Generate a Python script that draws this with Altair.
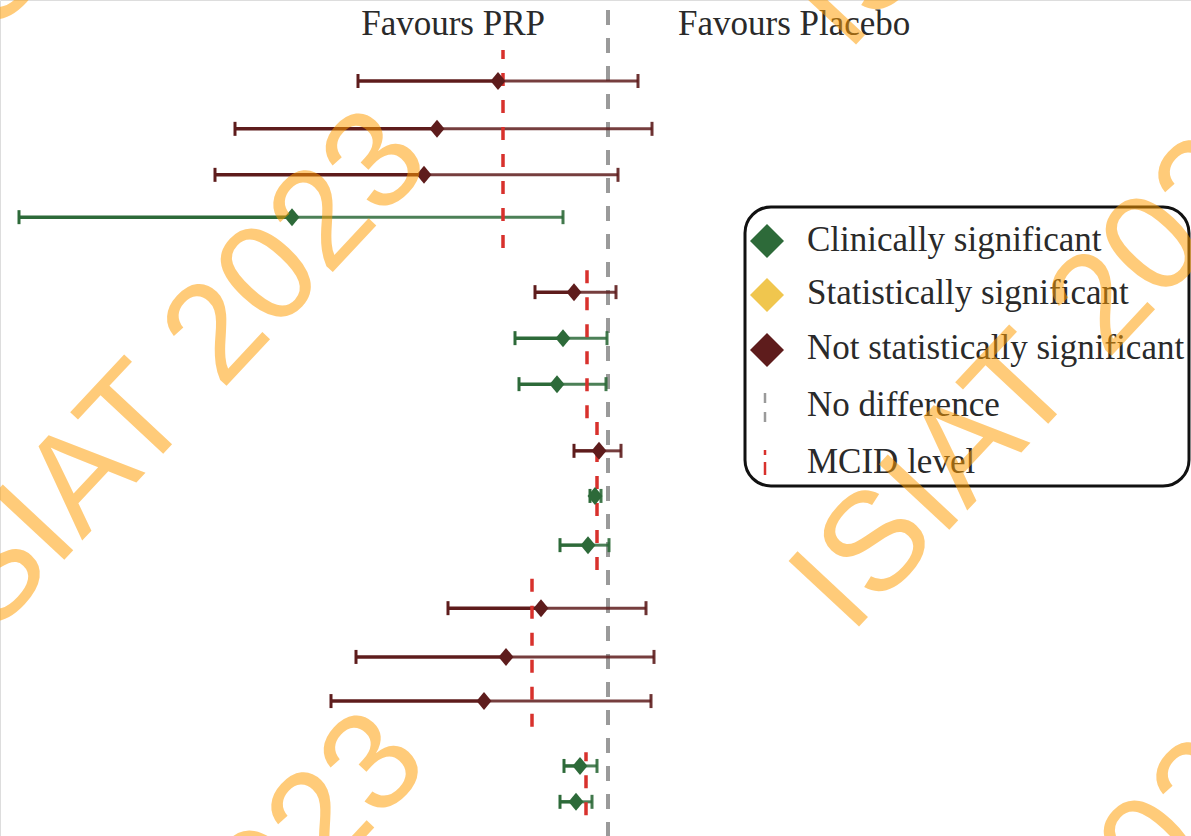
import altair as alt
import pandas as pd

# ---- Forest plot data: mean difference vs placebo with 95% CI (top to bottom) ----
row_pos = [0, 1.04, 2.04, 2.96, 4.59, 5.59, 6.59, 8.04, 9.02, 10.09,
           11.46, 12.52, 13.48, 14.89, 15.67]
lower = [-12.5, -18.65, -19.65, -29.45, -3.65, -4.65, -4.45, -1.7, -0.9, -2.4,
         -8.0, -12.6, -13.85, -2.2, -2.4]
estimate = [-5.5, -8.55, -9.2, -15.8, -1.7, -2.25, -2.55, -0.45, -0.65, -1.0,
            -3.35, -5.1, -6.2, -1.4, -1.6]
upper = [1.5, 2.2, 0.5, -2.25, 0.4, -0.05, -0.1, 0.65, -0.35, 0.05,
         1.9, 2.3, 2.15, -0.55, -0.8]
CLIN = "Clinically significant"
STAT = "Statistically significant"
NS = "Not statistically significant"
status = [NS, NS, NS, CLIN, NS, CLIN, CLIN, NS, CLIN, CLIN,
          NS, NS, NS, CLIN, CLIN]

# MCID thresholds, one per outcome group, with the rows each one spans
mcid_value = [-5.25, -1.05, -0.55, -3.8, -1.1]
mcid_from = [3.63, 7.33, 10.63, 14.04, 15.96]
mcid_to = [-0.674, 3.89, 7.37, 10.80, 14.59]

legend_labels = [CLIN, STAT, NS, "No difference", "MCID level"]
status_colors = ["#2D6A39", "#F0C64E", "#5E1C1C"]

W, H = 1191, 836

rows = pd.DataFrame({"pos": row_pos, "lower": lower, "estimate": estimate,
                     "upper": upper, "status": status})
mcid = pd.DataFrame({"mcid": mcid_value, "y_from": mcid_from, "y_to": mcid_to})
one = pd.DataFrame({"k": [0]})

xs = alt.Scale(domain=[-30.4, 29.15], nice=False, zero=False)
ys = alt.Scale(domain=[-1.7609, 16.413], nice=False, zero=False, reverse=True)
col = alt.Scale(domain=[CLIN, STAT, NS], range=status_colors)

X = lambda f: alt.X(f, type="quantitative", scale=xs, axis=None)
Y = lambda f: alt.Y(f, type="quantitative", scale=ys, axis=None)
PX = lambda f: alt.X(f, type="quantitative", scale=None, axis=None)
PY = lambda f: alt.Y(f, type="quantitative", scale=None, axis=None)
C = alt.Color("status:N", scale=col, legend=None)

base = alt.Chart(rows)

ci_right = base.mark_rule(strokeWidth=3, opacity=0.85).encode(
    x=X("estimate"), x2="upper", y=Y("pos"), color=C)
ci_left = base.mark_rule(strokeWidth=3.5).encode(
    x=X("lower"), x2="estimate", y=Y("pos"), color=C)
cap_shape = "M0,-1L0,1"
cap_lo = base.mark_point(shape=cap_shape, filled=False, size=196,
                         strokeWidth=3, opacity=1).encode(
    x=X("lower"), y=Y("pos"), color=C)
cap_hi = base.mark_point(shape=cap_shape, filled=False, size=196,
                         strokeWidth=3, opacity=0.9).encode(
    x=X("upper"), y=Y("pos"), color=C)

no_diff = alt.Chart(one).mark_rule(
    color="#9A9A9A", strokeWidth=4, strokeDash=[15, 13], strokeDashOffset=18
).encode(x=alt.X(datum=0, type="quantitative", scale=xs, axis=None),
         y=alt.value(0), y2=alt.value(H))

mcid_lines = alt.Chart(mcid).mark_rule(
    color="#D8312C", strokeWidth=3.5, strokeDash=[13, 14]
).encode(x=X("mcid"), y=Y("y_from"), y2="y_to")

diamonds = base.mark_point(shape="M0,-1L0.83,0L0,1L-0.83,0Z", filled=True,
                           size=324, opacity=1, strokeWidth=0).encode(
    x=X("estimate"), y=Y("pos"), color=C)

# ---- header annotations ----
serif = "Liberation Serif"
fav_prp = alt.Chart(one).mark_text(
    text="Favours PRP", font=serif, fontSize=35, color="#2A2A2A",
    align="right", baseline="alphabetic"
).encode(x=alt.value(545), y=alt.value(35))
fav_pla = alt.Chart(one).mark_text(
    text="Favours Placebo", font=serif, fontSize=35, color="#2A2A2A",
    align="left", baseline="alphabetic"
).encode(x=alt.value(678), y=alt.value(35))

# ---- legend box ----
leg_box = alt.Chart(one).mark_rect(
    fill="white", stroke="#111111", strokeWidth=3, cornerRadius=26
).encode(x=alt.value(745), x2=alt.value(1189), y=alt.value(207), y2=alt.value(486))

leg_text_df = pd.DataFrame({"label": legend_labels,
                            "ly": [251, 304, 359, 416, 473]})
leg_text = alt.Chart(leg_text_df).mark_text(
    font=serif, fontSize=35, color="#2A2A2A", align="left", baseline="alphabetic"
).encode(x=alt.value(807), y=PY("ly"), text="label:N")

leg_sym_df = pd.DataFrame({"status": [CLIN, STAT, NS], "ly": [241, 295, 350]})
leg_sym = alt.Chart(leg_sym_df).mark_point(
    shape="diamond", filled=True, size=1156, opacity=1, strokeWidth=0
).encode(x=alt.value(767), y=PY("ly"), color=C)

leg_gray = alt.Chart(one).mark_rule(
    color="#9A9A9A", strokeWidth=2.5, strokeDash=[10, 9]
).encode(x=alt.value(765), y=alt.value(393), y2=alt.value(423))
leg_red = alt.Chart(one).mark_rule(
    color="#D8312C", strokeWidth=2.5, strokeDash=[13, 7]
).encode(x=alt.value(765), y=alt.value(475), y2=alt.value(450))

# ---- tiled watermark (tile centres in pixels) ----
wm_x = [169, 167, 171, 1054, 1052, 1051]
wm_y = [386, 988, -216, 356, 958, -226]
watermark = alt.Chart(pd.DataFrame({"wx": wm_x, "wy": wm_y})).mark_text(
    text="ISIAT 2023", font="Liberation Sans", fontSize=140, angle=313,
    color="#FF9D00", opacity=0.52, align="center", baseline="middle"
).encode(x=PX("wx"), y=PY("wy"))

chart = alt.layer(
    leg_box, no_diff, ci_right, ci_left, cap_lo, cap_hi, mcid_lines, diamonds,
    fav_prp, fav_pla, leg_text, leg_sym, leg_gray, leg_red, watermark
).properties(
    width=W, height=H, padding=0, autosize=alt.AutoSizeParams(type="none")
).configure_view(stroke=None, strokeWidth=0).configure(background="white")

chart.save("out.html", embed_options={"renderer": "svg", "actions": False})
